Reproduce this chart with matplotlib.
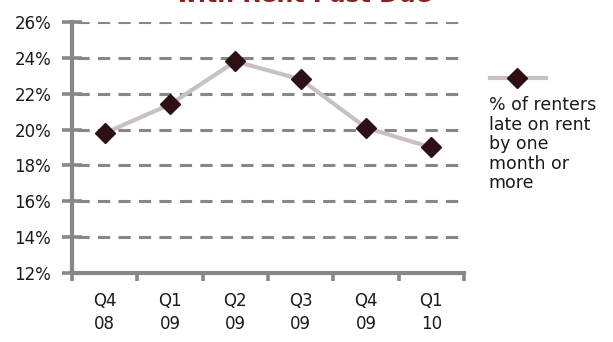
import matplotlib.pyplot as plt
from matplotlib.lines import Line2D
from matplotlib.ticker import FuncFormatter

# Veriler
quarters = ['Q4\n08', 'Q1\n09', 'Q2\n09', 'Q3\n09', 'Q4\n09', 'Q1\n10']
late_pct = [19.8, 21.4, 23.8, 22.8, 20.1, 19.0]
y_ticks = [12, 14, 16, 18, 20, 22, 24, 26]

title = 'with Rent Past Due'
legend_label = '% of renters\nlate on rent\nby one\nmonth or\nmore'

plt.rcParams['font.family'] = ['DejaVu Sans']

grey = '#878787'
line_col = '#c9c0c1'
marker_col = '#2e0f14'
text_col = '#1a1a1a'

fig = plt.figure(figsize=(6.13, 3.42), dpi=100)
ax = fig.add_axes([0.1175, 0.2018, 0.6395, 0.734])

x = list(range(len(quarters)))
ax.plot(x, late_pct, color=line_col, linewidth=3, marker='D', markersize=10,
        markerfacecolor=marker_col, markeredgecolor=marker_col, zorder=3,
        clip_on=False)

ax.set_xlim(-0.5, len(quarters) - 0.5)
ax.set_ylim(12, 26)
ax.set_yticks(y_ticks)
ax.yaxis.set_major_formatter(FuncFormatter(lambda v, p: f'{v:.0f}%'))

# kategori etiketleri noktaların altında, tick çizgileri kategoriler arasında
ax.set_xticks([i - 0.5 for i in range(len(quarters) + 1)])
ax.set_xticklabels([])
ax.set_xticks(x, minor=True)
ax.set_xticklabels(quarters, minor=True, fontsize=12, color=text_col,
                   linespacing=1.35)
ax.tick_params(axis='x', which='minor', length=0, pad=14)
ax.tick_params(axis='x', which='major', length=6, width=2.6, color=grey,
               direction='out')
ax.tick_params(axis='y', length=14, width=2.6, color=grey, direction='inout',
               labelsize=12, labelcolor=text_col, pad=8)

for s in ['top', 'right']:
    ax.spines[s].set_visible(False)
for s in ['left', 'bottom']:
    ax.spines[s].set_color(grey)
    ax.spines[s].set_linewidth(3)

for v in y_ticks[1:]:
    ax.axhline(v, xmin=0.012, color=grey, linewidth=2.2,
               linestyle=(0, (4, 2.7)), zorder=1)

# legend: çizgi örneği üstte, metin altta
fig.add_artist(Line2D([0.80, 0.89], [0.772, 0.772], color=line_col,
                      linewidth=3, transform=fig.transFigure))
fig.add_artist(Line2D([0.843], [0.772], marker='D', markersize=10,
                      color=marker_col, transform=fig.transFigure))
fig.text(0.797, 0.718, legend_label, fontsize=12.5, color=text_col,
         va='top', ha='left', linespacing=1.1)

fig.text(0.496, 0.995, title, fontsize=17, fontweight='bold',
         color='#8b2020', ha='center', va='baseline')

fig.savefig('out.png', dpi=100)
